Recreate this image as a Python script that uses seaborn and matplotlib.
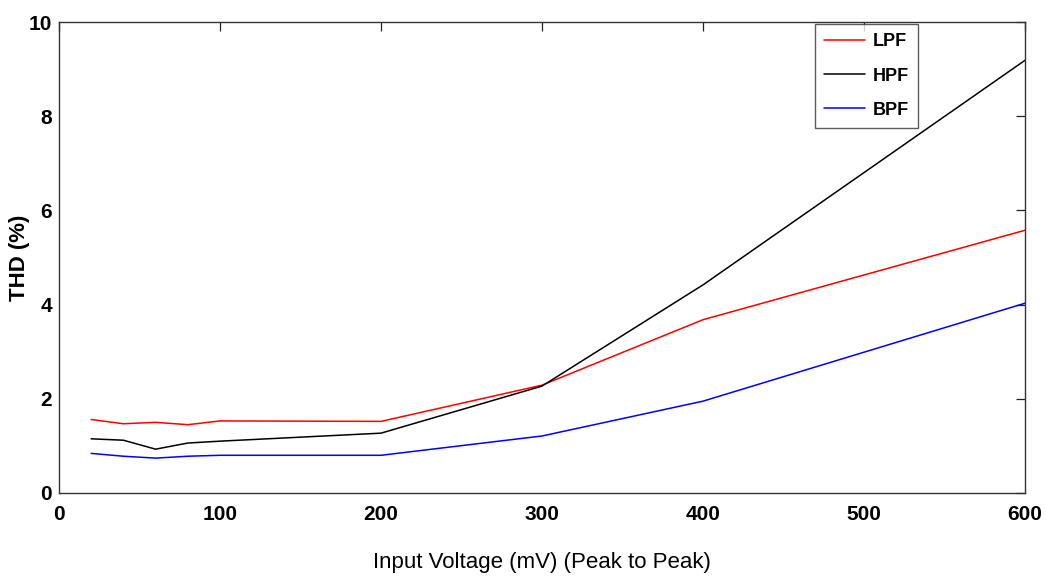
import matplotlib
matplotlib.use("Agg")
import matplotlib.pyplot as plt
import pandas as pd
import seaborn as sns

# values
voltage = [20, 40, 60, 80, 100, 200, 300, 400, 600]
lpf = [1.56, 1.47, 1.50, 1.45, 1.53, 1.52, 2.29, 3.68, 5.58]
hpf = [1.15, 1.12, 0.93, 1.06, 1.10, 1.27, 2.27, 4.42, 9.19]
bpf = [0.84, 0.78, 0.74, 0.78, 0.80, 0.80, 1.21, 1.95, 4.03]

series = ["LPF", "HPF", "BPF"]
colors = ["#ff0000", "#000000", "#0000ff"]

rows = []
for name, vals in zip(series, [lpf, hpf, bpf]):
    for v, t in zip(voltage, vals):
        rows.append({"Voltage": v, "THD": t, "Filter": name})
df = pd.DataFrame(rows)

sns.set_style("white", {"text.color": "black", "axes.labelcolor": "black"})
plt.rcParams["font.family"] = ["Liberation Sans Narrow", "Liberation Sans", "DejaVu Sans"]

fig = plt.figure(figsize=(10.46, 5.82), dpi=100)
ax = fig.add_axes([0.0564, 0.153, 0.9236, 0.809])

sns.lineplot(data=df, x="Voltage", y="THD", hue="Filter", hue_order=series,
             palette=colors, linewidth=1.1, ax=ax)

ax.set_xlim(0, 600)
ax.set_ylim(0, 10)
ax.set_xticks(range(0, 601, 100))
ax.set_yticks(range(0, 11, 2))
ax.tick_params(direction="in", length=6.5, width=0.9, top=True, right=True,
               colors="#222222", labelcolor="black")
ax.tick_params(axis="x", pad=9)
ax.tick_params(axis="y", pad=5)
for lab in ax.get_xticklabels() + ax.get_yticklabels():
    lab.set_fontsize(15)
    lab.set_fontweight("bold")
for sp in ax.spines.values():
    sp.set_color("#333333")
    sp.set_linewidth(1.0)

ax.set_xlabel("Input Voltage (mV) (Peak to Peak)", fontsize=16, color="black")
ax.xaxis.set_label_coords(0.5, -0.125)
ax.set_ylabel("THD (%)", fontsize=16, fontweight="bold", color="black")
ax.yaxis.set_label_coords(-0.030, 0.5)

leg = ax.legend(loc="upper right", bbox_to_anchor=(0.889, 0.995), frameon=True,
                fancybox=False, fontsize=13, handlelength=2.3, labelspacing=0.95,
                borderpad=0.5, handletextpad=0.4, borderaxespad=0)
leg.get_frame().set_edgecolor("#333333")
leg.get_frame().set_linewidth(1.0)
for t in leg.get_texts():
    t.set_fontweight("bold")
    t.set_color("black")

fig.savefig("out.png", dpi=100)
